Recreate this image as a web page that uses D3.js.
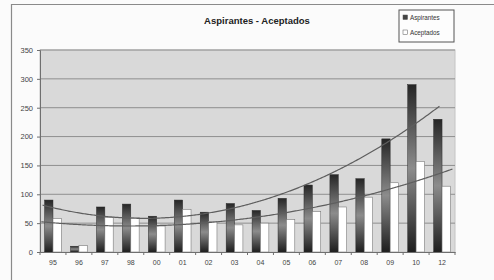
<!DOCTYPE html>
<html>
<head>
<meta charset="utf-8">
<script src="https://cdn.jsdelivr.net/npm/d3@7"></script>
<style>
  html, body { margin: 0; padding: 0; background: #fbfbfb; }
  svg { display: block; font-family: "Liberation Sans", Arial, sans-serif; }
</style>
</head>
<body>
<svg id="chart" width="494" height="280"></svg>
<script>
const years = ['95', '96', '97', '98', '00', '01', '02', '03', '04', '05', '06', '07', '08', '09', '10', '12'];
const aspirantes = [90, 10, 78, 83, 62, 90, 69, 84, 72, 93, 116, 134, 127, 196, 290, 230];
const aceptados = [58, 11, 60, 60, 45, 74, 53, 47, 50, 56, 70, 78, 95, 120, 157, 114];
const yTicks = [0, 50, 100, 150, 200, 250, 300, 350];
const seriesNames = ['Aspirantes', 'Aceptados'];

const svg = d3.select('#chart');
const plot = { left: 40, right: 455, top: 50, bottom: 252 };

// outer chart frame (cut by the picture on the right and bottom)
svg.append('path')
  .attr('d', 'M11.5,280 V4.5 H494')
  .attr('fill', 'none')
  .attr('stroke', '#8a8a8a')
  .attr('stroke-width', 1.2);

const x = d3.scaleBand().domain(years).range([plot.left, plot.right]);
const xIn = d3.scaleBand().domain(seriesNames)
  .range([0, x.bandwidth()]).paddingOuter(0.55).paddingInner(0);
const y = d3.scaleLinear().domain([0, 350]).range([plot.bottom, plot.top]);

// bar gradient, dark - grey - dark
const defs = svg.append('defs');
const grad = defs.append('linearGradient').attr('id', 'darkBar')
  .attr('x1', 0).attr('y1', 0).attr('x2', 0).attr('y2', 1);
grad.append('stop').attr('offset', '0%').attr('stop-color', '#262626');
grad.append('stop').attr('offset', '50%').attr('stop-color', '#8c8c8c');
grad.append('stop').attr('offset', '100%').attr('stop-color', '#1e1e1e');

svg.append('rect')
  .attr('x', plot.left).attr('y', plot.top)
  .attr('width', plot.right - plot.left).attr('height', plot.bottom - plot.top)
  .attr('fill', '#d9d9d9')
  .attr('stroke', '#c4c4c4');

// gridlines
svg.append('g').selectAll('line').data(yTicks.slice(1))
  .join('line')
  .attr('x1', plot.left).attr('x2', plot.right)
  .attr('y1', d => y(d)).attr('y2', d => y(d))
  .attr('stroke', '#8f8f8f').attr('stroke-width', 1);

// bars
const groups = svg.append('g').selectAll('g').data(years)
  .join('g')
  .attr('transform', d => `translate(${x(d)},0)`);

groups.append('rect')
  .attr('x', xIn('Aspirantes'))
  .attr('y', (d, i) => y(aspirantes[i]))
  .attr('width', xIn.bandwidth())
  .attr('height', (d, i) => plot.bottom - y(aspirantes[i]))
  .attr('fill', 'url(#darkBar)')
  .attr('stroke', '#2a2a2a').attr('stroke-width', 0.5);

groups.append('rect')
  .attr('x', xIn('Aceptados'))
  .attr('y', (d, i) => y(aceptados[i]))
  .attr('width', xIn.bandwidth())
  .attr('height', (d, i) => plot.bottom - y(aceptados[i]))
  .attr('fill', '#ffffff')
  .attr('stroke', '#7a7a7a').attr('stroke-width', 0.6);

// polynomial trend lines (least squares, x = 1..n like the spreadsheet)
function polyFit(vals, order) {
  const k = order + 1;
  const m = d3.range(k).map(() => d3.range(k + 1).fill(0));
  vals.forEach((v, i) => {
    const xi = i + 1;
    for (let r = 0; r < k; r++) {
      for (let c = 0; c < k; c++) m[r][c] += Math.pow(xi, r + c);
      m[r][k] += v * Math.pow(xi, r);
    }
  });
  for (let c = 0; c < k; c++) {
    for (let r = c + 1; r < k; r++) {
      const f = m[r][c] / m[c][c];
      for (let j = c; j <= k; j++) m[r][j] -= f * m[c][j];
    }
  }
  const b = d3.range(k).fill(0);
  for (let r = k - 1; r >= 0; r--) {
    let acc = m[r][k];
    for (let j = r + 1; j < k; j++) acc -= m[r][j] * b[j];
    b[r] = acc / m[r][r];
  }
  return xv => d3.sum(b, (bj, j) => bj * Math.pow(xv, j));
}

const xPos = d3.scaleLinear().domain([1, years.length])
  .range([x(years[0]) + x.bandwidth() / 2, x(years[years.length - 1]) + x.bandwidth() / 2]);
const trendLine = d3.line().x(d => xPos(d[0])).y(d => y(d[1]));

[[aspirantes, 0.6, 15.9], [aceptados, 0.55, 16.4]].forEach(([vals, from, to]) => {
  const f = polyFit(vals, 2);
  const pts = d3.range(from, to + 0.001, 0.05).map(t => [t, f(t)]);
  svg.append('path')
    .attr('d', trendLine(pts))
    .attr('fill', 'none')
    .attr('stroke', '#5e5e5e')
    .attr('stroke-width', 1.2);
});

// axes
const yAxis = svg.append('g')
  .attr('transform', `translate(${plot.left},0)`)
  .call(d3.axisLeft(y).tickValues(yTicks).tickSize(3).tickPadding(4));
yAxis.select('.domain').attr('stroke', '#6f6f6f');
yAxis.selectAll('line').attr('stroke', '#6f6f6f');
yAxis.selectAll('text').attr('font-size', 7.5).attr('fill', '#444');
yAxis.attr('font-family', null);

const xAxis = svg.append('g')
  .attr('transform', `translate(0,${plot.bottom})`)
  .call(d3.axisBottom(x).tickSize(0).tickPadding(8));
xAxis.select('.domain').attr('stroke', '#6f6f6f');
xAxis.selectAll('text').attr('font-size', 7).attr('fill', '#444');
xAxis.attr('font-family', null);

// category boundary ticks
svg.append('g').selectAll('line').data(years.concat(['end']))
  .join('line')
  .attr('x1', (d, i) => plot.left + i * x.step())
  .attr('x2', (d, i) => plot.left + i * x.step())
  .attr('y1', plot.bottom).attr('y2', plot.bottom + 3)
  .attr('stroke', '#6f6f6f');

// title
svg.append('text')
  .attr('x', 257).attr('y', 24)
  .attr('text-anchor', 'middle')
  .attr('font-size', 9.5).attr('font-weight', 'bold')
  .attr('fill', '#222')
  .text('Aspirantes - Aceptados');

// legend
const legend = svg.append('g').attr('transform', 'translate(399,10)');
legend.append('rect')
  .attr('width', 55).attr('height', 32)
  .attr('fill', '#fdfdfd').attr('stroke', '#555').attr('stroke-width', 1);
const items = legend.selectAll('g').data(seriesNames)
  .join('g')
  .attr('transform', (d, i) => `translate(4,${9 + i * 15})`);
items.append('rect')
  .attr('x', 0).attr('y', -4).attr('width', 4.5).attr('height', 4.5)
  .attr('fill', (d, i) => i === 0 ? '#444' : '#fff')
  .attr('stroke', '#555').attr('stroke-width', 0.5);
items.append('text')
  .attr('x', 7).attr('y', 0.5)
  .attr('font-size', 6.3).attr('fill', '#333')
  .text(d => d);
</script>
</body>
</html>
